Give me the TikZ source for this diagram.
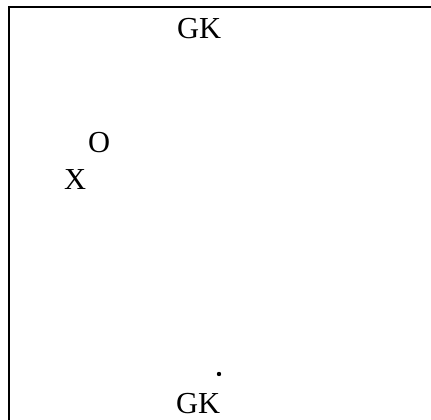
\documentclass[tikz,border=0pt]{standalone}
\usepackage{fontspec}
\setmainfont{Liberation Serif}
\begin{document}
\begin{tikzpicture}[x=1pt,y=-1pt,
  lbl/.style={anchor=base west,inner sep=0pt,font=\fontsize{30.5}{30.5}\selectfont},
  frame/.style={line width=2.2pt,line cap=butt}]
\useasboundingbox (0,0) rectangle (431,420);
\coordinate (bl) at (9,420);
\coordinate (tl) at (9,7);
\coordinate (tr) at (431,7);
\draw[frame] (bl) -- (tl) -- (tr);
\node[lbl] (gk1) at (177,39) {GK};
\node[lbl] (o) at (88,152) {O};
\node[lbl] (x) at (64,189) {X};
\node[lbl] (gk2) at (176,413) {GK};
\fill (219,374) circle[radius=2.2] coordinate (dot);
\end{tikzpicture}
\end{document}
